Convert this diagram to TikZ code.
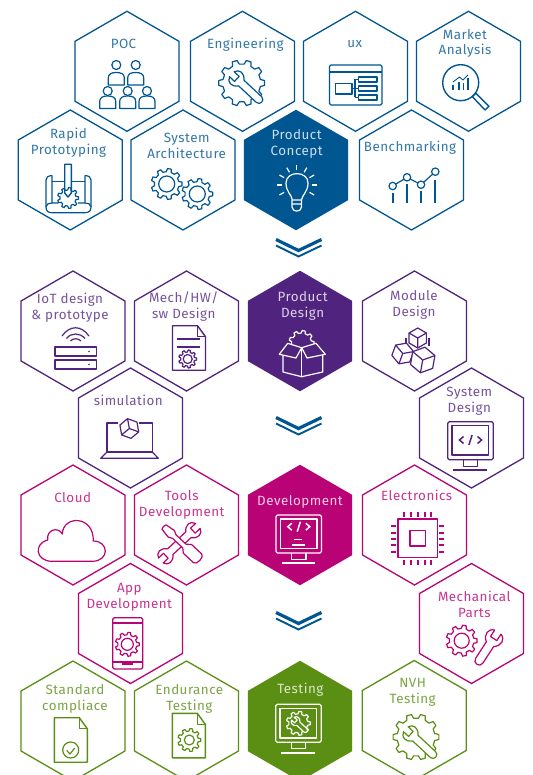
\documentclass[tikz,border=0pt]{standalone}
\usepackage{fontspec}
\setmainfont[LetterSpace=3.5]{Fira Sans}
\usetikzlibrary{shapes.geometric}
\definecolor{bcblue}{HTML}{005691}
\definecolor{bcpurple}{HTML}{50237F}
\definecolor{bcpink}{HTML}{B90276}
\definecolor{bcgreen}{HTML}{5A8F14}
\colorlet{ic}{bcblue}
\colorlet{bg}{white}
\colorlet{tc}{bcblue}
\tikzset{
  hexa/.style={regular polygon,regular polygon sides=6,shape border rotate=30,minimum size=120pt,inner sep=0pt,outer sep=0pt,draw=ic,line width=1.3pt},
  hexsolid/.style={regular polygon,regular polygon sides=6,shape border rotate=30,minimum size=120.5pt,inner sep=0pt,outer sep=0pt,fill=ic},
  lab/.style={align=center,inner sep=0pt,yshift=-1.3pt,text=tc,font=\fontsize{13.4}{16}\selectfont},
  labtight/.style={align=center,inner sep=0pt,yshift=-1.3pt,text=tc,font=\fontsize{13.4}{13.7}\selectfont},
  icon/.style={draw=ic,line width=1.2pt,line join=round},
  thick icon/.style={draw=ic,line width=1.8pt},
  chevtop/.style={draw=bcblue,line width=3.2pt},
  chevlow/.style={draw=bcblue,line width=1.9pt}
}
\newcommand\gearat[6]{%
  \begin{scope}[shift={(#1,#2)}]
  \pgfmathsetmacro\gs{360/#6}
  \draw[icon,fill=bg] ({-0.3*\gs}:#4) \foreach \a in {1,...,#6} { -- ({(\a-1.17)*\gs}:#3) -- ({(\a-0.83)*\gs}:#3) -- ({(\a-0.7)*\gs}:#4) -- ({(\a-0.3)*\gs}:#4)} -- cycle;
  \ifdim #5pt>0pt \draw[icon] (0,0) circle (#5);\fi
  \end{scope}}
\newcommand\wrenchat[5]{%
  \begin{scope}[shift={(#1,#2)},rotate=#3,scale=#5]
  \draw[icon,fill=bg] (-6.5,-2.6) -- (-1.2,-2.6) -- (-1.2,2.6) -- (-6.5,2.6) .. controls (-5,7) and (0,7.5) .. (3.5,3) -- (#4,3) .. controls (#4+4,3) and (#4+4,-3) .. (#4,-3) -- (3.5,-3) .. controls (0,-7.5) and (-5,-7) .. cycle;
  \end{scope}}
\newcommand\dwrenchat[5]{%
  \begin{scope}[shift={(#1,#2)},rotate=#3,scale=#5]
  \draw[icon,fill=bg] (-6.5,-2.6) -- (-1.2,-2.6) -- (-1.2,2.6) -- (-6.5,2.6) .. controls (-5,7) and (0,7.5) .. (3.5,3) -- (#4-3.5,3) .. controls (#4,7.5) and (#4+5,7) .. (#4+6.5,2.6) -- (#4+1.2,2.6) -- (#4+1.2,-2.6) -- (#4+6.5,-2.6) .. controls (#4+5,-7) and (#4,-7.5) .. (#4-3.5,-3) -- (3.5,-3) .. controls (0,-7.5) and (-5,-7) .. cycle;
  \end{scope}}
\newcommand\cubeat[4]{%
  \begin{scope}[shift={(#1,#2)},rotate=#4]
  \draw[icon,fill=bg] (0:#3) -- (60:#3) -- (120:#3) -- (180:#3) -- (240:#3) -- (300:#3) -- cycle;
  \draw[icon] (0,0) -- (0:#3) (0,0) -- (120:#3) (0,0) -- (240:#3);
  \end{scope}}
\newcommand\docat[2]{%
  \draw[icon,line width=1.4pt] (#1,#2) -- ({#1+25},#2) -- ({#1+33},{#2+11}) -- ({#1+33},{#2+44.5}) -- (#1,{#2+44.5}) -- cycle;
  \draw[icon] ({#1+25},#2) -- ({#1+25},{#2+11}) -- ({#1+33},{#2+11});}
\newcommand\monitorat[2]{%
  \begin{scope}[shift={(#1,#2)}]
  \draw[icon,rounded corners=1.5pt] (0,0) rectangle (45.5,38);
  \draw[icon,line width=1.5pt] (4.3,4) rectangle (41,33.5);
  \draw[icon] (15.5,38) -- (15.5,44.5) -- (30,44.5) -- (30,38);
  \draw[thick icon] (5.5,48.3) -- (39,48.3);
  \end{scope}}
\newcommand\codeat[2]{%
  \begin{scope}[shift={(#1,#2)}]
  \draw[thick icon,line width=1.5pt] (-7,-3.5) -- (-11,0) -- (-7,3.5) (7,-3.5) -- (11,0) -- (7,3.5) (-1.6,5) -- (1.6,-5);
  \end{scope}}
\newcommand\personat[3]{%
  \draw[icon,fill=bg] (#1,#2) circle (4.5);
  \draw[icon,fill=bg] ({#1-8},#3) -- ({#1-8},{#3-7}) .. controls ({#1-8},{#3-11}) and ({#1-5},{#3-12.5}) .. (#1,{#3-12.5}) .. controls ({#1+5},{#3-12.5}) and ({#1+8},{#3-11}) .. ({#1+8},{#3-7}) -- ({#1+8},#3) -- cycle;}
\newcommand\chevat[1]{%
  \draw[chevtop] (276,{#1+1.5}) -- (298.5,{#1+12.5}) -- (321.5,{#1+1.5});
  \draw[chevlow] (276,{#1+7.5}) -- (298.5,{#1+18.5}) -- (321.5,{#1+7.5});}
\begin{document}
\begin{tikzpicture}[x=1pt,y=-1pt]
\path[use as bounding box,clip] (0,0) rectangle (532,775);
\fill[white] (0,0) rectangle (532,775);

% ===== Concept (blue) =====
\begin{scope}
\colorlet{ic}{bcblue}\colorlet{tc}{bcblue!80!white}\colorlet{bg}{white}
\node[hexa] (poc) at (127,71.3) {};
\node[hexa] (eng) at (242.5,71.3) {};
\node[hexa] (ux) at (355.5,71.3) {};
\node[hexa] (market) at (468.5,71.3) {};
\node[hexa] (rapid) at (70.3,170) {};
\node[hexa] (sysarch) at (183,170) {};
\node[hexsolid] (concept) at (296,170) {};
\node[hexa] (bench) at (411.5,170) {};
\node[lab] (tpoc) at (123.5,44) {\strut POC};
\node[lab] (teng) at (245.3,44.5) {\strut Engineering};
\node[lab] (tux) at (354.7,42.7) {\strut ux};
\node[labtight] (tmarket) at (465,42.8) {\strut Market\\\strut Analysis};
\node[lab] (trapid) at (68.5,142.5) {\strut Rapid\\\strut Prototyping};
\node[lab] (tsys) at (186.7,146.5) {\strut System\\\strut Architecture};
\node[lab,text=white!80!bcblue] (tconcept) at (296.7,143.5) {\strut Product\\\strut Concept};
\node[lab] (tbench) at (410,146.7) {\strut Benchmarking};
% POC icon
\personat{116.3}{65}{85}\personat{135.7}{65}{85}
\personat{107.7}{91}{108.5}\personat{127.7}{91}{108.5}\personat{147}{91}{108.5}
% Engineering icon
\gearat{241.7}{83}{23}{19}{0}{10}
\wrenchat{238}{80}{-43}{22}{1.3}
% ux icon
\draw[icon] (329.5,65) [rounded corners=1.5pt] rectangle (382,105);
\draw[thick icon] (329.5,72) -- (382,72);
\draw[icon,line width=1.5pt] (335.5,83.5) rectangle (352,94);
\draw[icon,line width=1.5pt] (358.5,77) rectangle (377,82) (358.5,86) rectangle (377,91) (358.5,95) rectangle (377,100);
\draw[icon] (352,88.7) -- (358.5,88.7) (355,79.5) -- (355,97.5) (355,79.5) -- (358.5,79.5) (355,97.5) -- (358.5,97.5);
% Market icon
\draw[icon,line width=1.4pt] (460.7,82.7) circle (18);
\draw[icon,line width=1.4pt] (472.2,96.5) -- (476,93.3) -- (489,106.3) -- (485,110) -- cycle;
\draw[thick icon] (453.3,90) -- (453.3,85) (459.3,90) -- (459.3,81.7) (463.5,90) -- (463.5,83) (468,90) -- (468,78);
\draw[icon,line width=.9pt] (453,82) -- (459.5,77) -- (463,80) -- (468,75);
% Rapid icon
\gearat{68}{198}{10.5}{8}{0}{9}
\draw[icon,line width=1.4pt] (64.7,164.3) -- (71.3,164.3) -- (71.3,193) -- (68,197) -- (64.7,193) -- cycle;
\draw[icon] (52,175.5) .. controls (48,176) and (46,177) .. (46,180) -- (46,207) .. controls (46,211) and (48,212.7) .. (52,212.7) -- (85,212.7) .. controls (89,212.7) and (91,211) .. (91,207) -- (91,180) .. controls (91,177) and (89,176) .. (85,175.5);
\draw[icon] (52,175.5) -- (52,203) (85,175.5) -- (85,203) (46,207) .. controls (46,204) and (49,203) .. (52,203) (52,203) -- (58,203) (78,203) -- (85,203) (85,203) .. controls (88,203) and (91,204) .. (91,207);
\draw[thick icon] (52,181.5) -- (64.7,181.5) (71.3,181.5) -- (85,181.5);
% System arch icon
\gearat{166.7}{184}{15.5}{12.3}{8}{9}
\gearat{197.3}{194}{15.5}{12.3}{8}{9}
% Bulb
\begin{scope}
\colorlet{ic}{white}
\draw[icon] (292.3,200) .. controls (292,195) and (286,192) .. (286,183) .. controls (286,170.5) and (308,170.5) .. (308,183) .. controls (308,192) and (302,195) .. (301.5,200) -- cycle;
\draw[icon] (292,200) -- (292,207) .. controls (292,212.5) and (301.5,212.5) .. (301.5,207) -- (301.5,200) (292,204) -- (301.5,204);
\foreach \r in {-150,-120,-90,-60,-30,0,30,150,180}{\draw[icon] (296.8,185) ++(\r:14.7) -- ++(\r:5.3);}
\end{scope}
% Benchmark icon
\draw[icon] (392.7,186) -- (407,177.3) -- (421,184.7) -- (435.3,171.7);
\foreach \p/\q/\b in {392.7/186/193.3,407/177.3/184,421/184.7/190.7,435.3/171.7/180}{
  \draw[icon,fill=bg] (\p,\q) circle (3.7);
  \draw[thick icon] (\p,\b) -- (\p,203.3);}
\end{scope}

\chevat{238}

% ===== Design (purple) =====
\begin{scope}
\colorlet{ic}{bcpurple}\colorlet{tc}{bcpurple!78!white}\colorlet{bg}{white}
\node[hexa] (iot) at (73,331) {};
\node[hexa] (mech) at (186.5,331) {};
\node[hexsolid] (pdesign) at (300,331) {};
\node[hexa] (module) at (414.5,331) {};
\node[hexa] (sim) at (130.5,428) {};
\node[hexa] (sysdes) at (471.5,428) {};
\node[lab] (tiot) at (70,306.5) {\strut IoT design\\\strut \& prototype};
\node[lab] (tmech) at (183.7,305.5) {\strut Mech/HW/\\\strut sw Design};
\node[lab,text=white!80!bcpurple] (tpd) at (302.7,304.7) {\strut Product\\\strut Design};
\node[lab] (tmodule) at (414,303.7) {\strut Module\\\strut Design};
\node[lab] (tsim) at (128.3,400.7) {\strut simulation};
\node[lab] (tsysdes) at (469.3,399.7) {\strut System\\\strut Design};
% IoT icon
\draw[icon] (62,336) .. controls (70,325) and (81,325) .. (89,336);
\draw[icon] (66.5,338.5) .. controls (71,332.5) and (80,332.5) .. (85,338.5);
\draw[icon] (70.5,341) .. controls (73,338) and (78,338) .. (81,341);
\draw[icon] (55,347) rectangle (96.5,356) (55,360) rectangle (96.5,369);
\fill[ic] (89,351.5) circle (.9) (89,364.5) circle (.9);
% Mech icon
\docat{172.5}{325.7}
\draw[thick icon] (177,339) -- (199.7,339) (177,346.7) -- (199.7,346.7);
\gearat{187.7}{359}{9}{7}{4.5}{9}
% Product Design box
\begin{scope}
\colorlet{ic}{white}\colorlet{bg}{bcpurple}
\gearat{301.5}{343}{12.5}{10}{0}{9}
\draw[icon,fill=bg] (283,351) -- (283,372) -- (301.7,376.7) -- (322.7,372) -- (322.7,351) -- (301.7,347.7) -- cycle;
\draw[icon] (301.7,347.7) -- (301.7,376.7);
\draw[icon,fill=bg] (279.3,354.3) -- (287.7,343.3) -- (301.7,347.7) -- (296,358) -- cycle;
\draw[icon,fill=bg] (325.3,354.3) -- (316,343.3) -- (301.7,347.7) -- (307,358) -- cycle;
\end{scope}
% Module icon
\cubeat{417.7}{338}{10}{30}
\draw[thick icon] (406,338) -- (406,345) (429,338) -- (429,346);
\cubeat{402.7}{353.5}{11}{10}
\cubeat{422.7}{360}{13}{20}
% Simulation icon
\draw[icon] (118,423) -- (107,423) -- (107,452) -- (152.3,452) -- (152.3,423) -- (139,423);
\draw[icon] (107,452) -- (100.7,458.3) -- (158.3,458.3) -- (152.3,452);
\cubeat{129.3}{428.5}{10}{-20}
% System Design icon
\monitorat{447.7}{421.7}
\codeat{470.5}{440}
\end{scope}

\chevat{416}

% ===== Development (pink) =====
\begin{scope}
\colorlet{ic}{bcpink}\colorlet{tc}{bcpink!80!white}\colorlet{bg}{white}
\node[hexa] (cloud) at (73,525) {};
\node[hexa] (tools) at (186.5,525) {};
\node[hexsolid] (dev) at (300,525) {};
\node[hexa] (elec) at (414.5,525) {};
\node[hexa] (app) at (130.5,623.5) {};
\node[hexa] (mparts) at (471.5,623.5) {};
\node[lab] (tcloud) at (72.7,498.3) {\strut Cloud};
\node[lab] (ttools) at (181.7,503.5) {\strut Tools\\\strut Development};
\node[lab,text=white!80!bcpink] (tdev) at (300,501.3) {\strut Development};
\node[lab] (telec) at (416.7,495.7) {\strut Electronics};
\node[lab] (tapp) at (129.3,595.5) {\strut App\\\strut Development};
\node[lab] (tmparts) at (474.3,604.5) {\strut Mechanical\\\strut Parts};
% Cloud icon
\draw[icon] (52,561.3) -- (92,561.3) .. controls (110,561.3) and (109,541) .. (93.3,541) .. controls (94,515) and (63,515) .. (62.3,534) .. controls (58,526) and (46,530) .. (47.7,540) .. controls (33,544) and (36,561.3) .. (52,561.3) -- cycle;
% Tools icon
\dwrenchat{191.7}{531.7}{-137}{26}{1.3}
\begin{scope}[shift={(164,527)},rotate=-43]
\draw[icon,fill=bg] (0,-3) .. controls (-1,-1) and (-1,1) .. (0,3) -- (10,4.5) -- (14,2.5) -- (28,2.5) -- (32,6) -- (46,6) .. controls (50,6) and (50,-6) .. (46,-6) -- (32,-6) -- (28,-2.5) -- (14,-2.5) -- (10,-4.5) -- cycle;
\end{scope}
% Development icon
\begin{scope}
\colorlet{ic}{white}
\monitorat{276}{515}
\codeat{298.8}{526.7}
\draw[icon] (293.7,539.3) -- (302,539.3) (291.9,545) -- (305.3,545);
\end{scope}
% Electronics icon
\draw[icon,line width=1.5pt] (398,519) rectangle (437.3,557.7);
\draw[icon,line width=1.5pt] (410,530.7) rectangle (425.3,546);
\foreach \p in {403.7,411,418.3,425.3,431}{\draw[thick icon] (\p,512.3) -- (\p,516.7) (\p,560) -- (\p,564.7);}
\foreach \q in {526,532.7,539.3,545.3,551.7}{\draw[thick icon] (391,\q) -- (396,\q) (439.3,\q) -- (444,\q);}
% App icon
\draw[icon,rounded corners=1.5pt] (112.7,617.7) rectangle (142.7,669);
\draw[thick icon] (112.7,623.3) -- (142.7,623.3) (112.7,662.3) -- (142.7,662.3);
\draw[thick icon] (122,664) -- (133,664);
\gearat{127.3}{644.3}{12}{9.5}{6}{9}
% Mechanical Parts icon
\gearat{461.7}{640.7}{15.5}{12.3}{7.5}{9}
\wrenchat{492.7}{640}{-123}{17}{1.45}
\end{scope}

\chevat{611}

% ===== Testing (green) =====
\begin{scope}
\colorlet{ic}{bcgreen}\colorlet{tc}{bcgreen!80!white}\colorlet{bg}{white}
\node[hexa] (std) at (73,721) {};
\node[hexa] (endur) at (186.5,721) {};
\node[hexsolid] (test) at (300,721) {};
\node[hexa] (nvh) at (414.2,720.5) {};
\node[lab] (tstd) at (75,697.5) {\strut Standard\\\strut compliace};
\node[lab] (tendur) at (189.3,697.5) {\strut Endurance\\\strut Testing};
\node[lab,text=white!78!bcgreen] (ttest) at (300.3,689.3) {\strut Testing};
\node[lab] (tnvh) at (412.7,691.3) {\strut NVH\\\strut Testing};
% Standard icon
\docat{54.3}{717.7}
\draw[icon] (70.7,750) circle (8);
\draw[icon] (66.7,750.5) -- (70,754) -- (74.7,748);
% Endurance icon
\docat{172.3}{713.3}
\gearat{189.3}{740}{11.5}{9}{5}{9}
% Testing icon
\begin{scope}
\colorlet{ic}{white}\colorlet{bg}{bcgreen}
\monitorat{275.7}{704.3}
\gearat{298.3}{723.3}{12}{9.5}{0}{9}
\wrenchat{296.5}{722}{-43}{16}{.75}
\end{scope}
% NVH icon
\gearat{416}{737}{23}{19}{0}{10}
\wrenchat{412}{735}{-43}{22}{1.3}
\end{scope}
\end{tikzpicture}
\end{document}
